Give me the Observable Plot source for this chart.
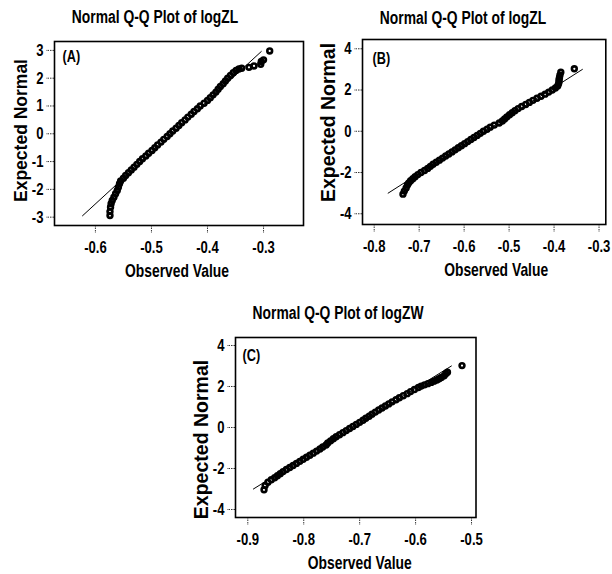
<!DOCTYPE html>
<html>
<head>
<meta charset="utf-8">
<script src="https://cdn.jsdelivr.net/npm/d3@7"></script>
<script src="https://cdn.jsdelivr.net/npm/@observablehq/plot@0.6"></script>
<style>
  body { margin: 0; background: #fff; }
  #page { position: relative; width: 612px; height: 574px; overflow: hidden; background: #fff; color: #000;
          font-family: "Liberation Sans", Arial, sans-serif; font-weight: bold; }
  .panel { position: absolute; }
  .panel svg { max-width: none !important; }
  .title { position: absolute; font-size: 18px; white-space: nowrap;
           transform: translate(-50%, -50%) scaleX(0.77); transform-origin: 50% 50%; }
</style>
</head>
<body>
<div id="page"></div>
<script>
// Panel A: logZL, sorted observed values and expected normal scores
const obsA = [
  -0.574,-0.574,-0.573,-0.572,-0.570,-0.567,-0.564,-0.561,-0.559,-0.557,
  -0.555,-0.550,-0.546,-0.541,-0.536,-0.531,-0.526,-0.521,-0.516,-0.510,
  -0.505,-0.499,-0.494,-0.489,-0.483,-0.478,-0.472,-0.467,-0.462,-0.456,
  -0.451,-0.446,-0.440,-0.435,-0.429,-0.424,-0.418,-0.413,-0.406,-0.400,
  -0.395,-0.390,-0.385,-0.381,-0.377,-0.372,-0.368,-0.364,-0.359,-0.354,
  -0.349,-0.344,-0.339,-0.326,-0.317,-0.305,-0.304,-0.300,-0.289
];
const expA = [
  -2.94,-2.80,-2.64,-2.52,-2.40,-2.28,-2.16,-2.04,-1.92,-1.80,
  -1.70,-1.60,-1.50,-1.40,-1.30,-1.20,-1.10,-1.00,-0.90,-0.80,
  -0.70,-0.60,-0.50,-0.40,-0.30,-0.20,-0.10,0.00,0.10,0.20,
  0.30,0.40,0.50,0.60,0.70,0.80,0.90,1.00,1.10,1.20,
  1.30,1.40,1.50,1.60,1.70,1.80,1.90,2.00,2.10,2.20,
  2.28,2.33,2.36,2.39,2.44,2.50,2.60,2.66,2.98
];
const fitAx = [-0.623, -0.304];
const fitAy = [-2.95, 2.96];

// Panel B: logZL
const obsB = [
  -0.736,-0.733,-0.729,-0.726,-0.723,-0.719,-0.714,-0.709,-0.703,-0.696,
  -0.688,-0.681,-0.675,-0.669,-0.662,-0.655,-0.648,-0.641,-0.634,-0.627,
  -0.620,-0.613,-0.606,-0.599,-0.592,-0.585,-0.578,-0.571,-0.564,-0.557,
  -0.549,-0.542,-0.533,-0.522,-0.515,-0.510,-0.505,-0.499,-0.493,-0.487,
  -0.480,-0.472,-0.463,-0.455,-0.447,-0.438,-0.429,-0.420,-0.412,-0.404,
  -0.397,-0.392,-0.390,-0.389,-0.389,-0.388,-0.387,-0.385,-0.355
];
const expB = [
  -3.05,-2.90,-2.75,-2.60,-2.50,-2.40,-2.30,-2.20,-2.10,-2.00,
  -1.90,-1.80,-1.70,-1.60,-1.50,-1.40,-1.30,-1.20,-1.10,-1.00,
  -0.90,-0.80,-0.70,-0.60,-0.50,-0.40,-0.30,-0.20,-0.10,0.00,
  0.10,0.20,0.30,0.40,0.50,0.60,0.70,0.80,0.90,1.00,
  1.10,1.20,1.30,1.40,1.50,1.60,1.70,1.80,1.90,2.00,
  2.10,2.20,2.30,2.40,2.50,2.60,2.72,2.86,3.03
];
const fitBx = [-0.769, -0.337];
const fitBy = [-3.0, 3.0];

// Panel C: logZW
const obsC = [
  -0.871,-0.869,-0.864,-0.858,-0.852,-0.847,-0.842,-0.837,-0.831,-0.825,
  -0.819,-0.813,-0.807,-0.801,-0.795,-0.789,-0.783,-0.777,-0.771,-0.766,
  -0.760,-0.757,-0.752,-0.747,-0.742,-0.736,-0.730,-0.724,-0.718,-0.712,
  -0.706,-0.700,-0.694,-0.689,-0.683,-0.678,-0.672,-0.666,-0.660,-0.654,
  -0.648,-0.642,-0.635,-0.629,-0.622,-0.615,-0.609,-0.602,-0.595,-0.590,
  -0.584,-0.578,-0.572,-0.567,-0.562,-0.558,-0.554,-0.549,-0.546,-0.543,-0.517
];
const expC = [
  -3.04,-2.83,-2.67,-2.55,-2.45,-2.35,-2.25,-2.15,-2.05,-1.95,
  -1.85,-1.75,-1.65,-1.55,-1.45,-1.35,-1.25,-1.15,-1.05,-0.95,
  -0.85,-0.75,-0.65,-0.55,-0.45,-0.35,-0.25,-0.15,-0.05,0.05,
  0.15,0.25,0.35,0.45,0.55,0.65,0.75,0.85,0.95,1.05,
  1.15,1.25,1.35,1.45,1.55,1.65,1.75,1.85,1.95,2.02,
  2.08,2.14,2.20,2.26,2.32,2.38,2.44,2.52,2.62,2.70,3.02
];
const fitCx = [-0.890, -0.536];
const fitCy = [-3.0, 3.0];

// Axis ticks
const xTicksA = [-0.6, -0.5, -0.4, -0.3];
const yTicksA = [-3, -2, -1, 0, 1, 2, 3];
const xTicksB = [-0.8, -0.7, -0.6, -0.5, -0.4, -0.3];
const yTicksB = [-4, -2, 0, 2, 4];
const xTicksC = [-0.9, -0.8, -0.7, -0.6, -0.5];
const yTicksC = [-4, -2, 0, 2, 4];

const titles = ["Normal Q-Q Plot of logZL", "Normal Q-Q Plot of logZL", "Normal Q-Q Plot of logZW"];
const tags = ["(A)", "(B)", "(C)"];
const xLabel = "Observed Value";
const yLabel = "Expected Normal";

const font = `"Liberation Sans", Arial, sans-serif`;
const condenseFactor = 0.77;
const page = document.getElementById("page");

// Squeeze horizontal labels into a condensed look (rotated labels are left as they are).
function condense(svg, f) {
  svg.querySelectorAll("text").forEach(t => {
    if ((t.getAttribute("transform") || "").includes("rotate")) return;
    const len = t.getComputedTextLength();
    if (len > 0) {
      t.setAttribute("textLength", (len * f).toFixed(2));
      t.setAttribute("lengthAdjust", "spacingAndGlyphs");
    }
  });
}

function qqPanel(p) {
  const mL = 62, mT = 45, mR = 14, mB = 62;
  const w = p.frame.right - p.frame.left + mL + mR;
  const h = p.frame.bottom - p.frame.top + mT + mB;
  const pts = p.obs.map((x, i) => ({x, y: p.exp[i]}));
  const fit = p.fitX.map((x, i) => ({x, y: p.fitY[i]}));
  const chart = Plot.plot({
    width: w, height: h,
    marginLeft: mL, marginTop: mT, marginRight: mR, marginBottom: mB,
    style: {fontFamily: font, fontWeight: "bold", fontSize: "17px", color: "#000", background: "none",
            overflow: "visible", maxWidth: "none"},
    x: {domain: p.xDomain},
    y: {domain: p.yDomain},
    marks: [
      Plot.axisX(p.xTicks, {tickSize: 8, tickPadding: 7, tickFormat: d => d.toFixed(1), label: null,
                             stroke: "#333", strokeDasharray: "1.5 1", fontSize: 17}),
      Plot.axisY(p.yTicks, {tickSize: 8, tickPadding: 3, tickFormat: d => String(d), label: null,
                             stroke: "#333", strokeDasharray: "1.5 1", fontSize: 17}),
      Plot.line(fit, {x: "x", y: "y", stroke: "#000", strokeWidth: 1}),
      Plot.dot(pts, {x: "x", y: "y", r: 2.4, stroke: "#000", strokeWidth: 2.6}),
      Plot.frame({stroke: "#000", strokeWidth: 1.6}),
      Plot.text([p.tag], {frameAnchor: "top-left", dx: p.tagDx, dy: p.tagDy, textAnchor: "start",
                          lineAnchor: "middle", fontSize: 16.5}),
      Plot.text([xLabel], {frameAnchor: "bottom", dx: p.xLabelDx, dy: 45.5, textAnchor: "middle",
                           lineAnchor: "middle", fontSize: 18}),
      Plot.text([yLabel], {frameAnchor: "left", rotate: -90, dx: -33.5, dy: p.yLabelDy,
                           textAnchor: "middle", lineAnchor: "middle", fontSize: p.yLabelSize})
    ]
  });
  chart.style.maxWidth = "none";
  const holder = document.createElement("div");
  holder.className = "panel";
  holder.style.left = (p.frame.left - mL) + "px";
  holder.style.top = (p.frame.top - mT) + "px";
  holder.style.width = w + "px";
  holder.style.height = h + "px";
  holder.appendChild(chart);
  page.appendChild(holder);
  condense(chart, condenseFactor);

  const t = document.createElement("div");
  t.className = "title";
  t.textContent = p.title;
  t.style.left = p.titlePos[0] + "px";
  t.style.top = p.titlePos[1] + "px";
  page.appendChild(t);
}

qqPanel({
  obs: obsA, exp: expA, fitX: fitAx, fitY: fitAy, xTicks: xTicksA, yTicks: yTicksA,
  xDomain: [-0.673, -0.2287], yDomain: [-3.30, 3.32],
  frame: {left: 54, right: 303, top: 41, bottom: 225},
  tag: tags[0], tagDx: 8, tagDy: 15, xLabelDx: -2, yLabelDy: -3, yLabelSize: 17.5,
  title: titles[0], titlePos: [155, 17]
});
qqPanel({
  obs: obsB, exp: expB, fitX: fitBx, fitY: fitBy, xTicks: xTicksB, yTicks: yTicksB,
  xDomain: [-0.826, -0.285], yDomain: [-4.52, 4.45],
  frame: {left: 361.7, right: 605, top: 39, bottom: 224},
  tag: tags[1], tagDx: 10, tagDy: 19, xLabelDx: 12, yLabelDy: -9.5, yLabelSize: 19.5,
  title: titles[1], titlePos: [463, 17.5]
});
qqPanel({
  obs: obsC, exp: expC, fitX: fitCx, fitY: fitCy, xTicks: xTicksC, yTicks: yTicksC,
  xDomain: [-0.922, -0.492], yDomain: [-4.39, 4.39],
  frame: {left: 234.5, right: 475, top: 337, bottom: 517},
  tag: tags[2], tagDx: 7, tagDy: 18, xLabelDx: 4, yLabelDy: 12, yLabelSize: 19.5,
  title: titles[2], titlePos: [337.5, 312.5]
});
</script>
</body>
</html>
